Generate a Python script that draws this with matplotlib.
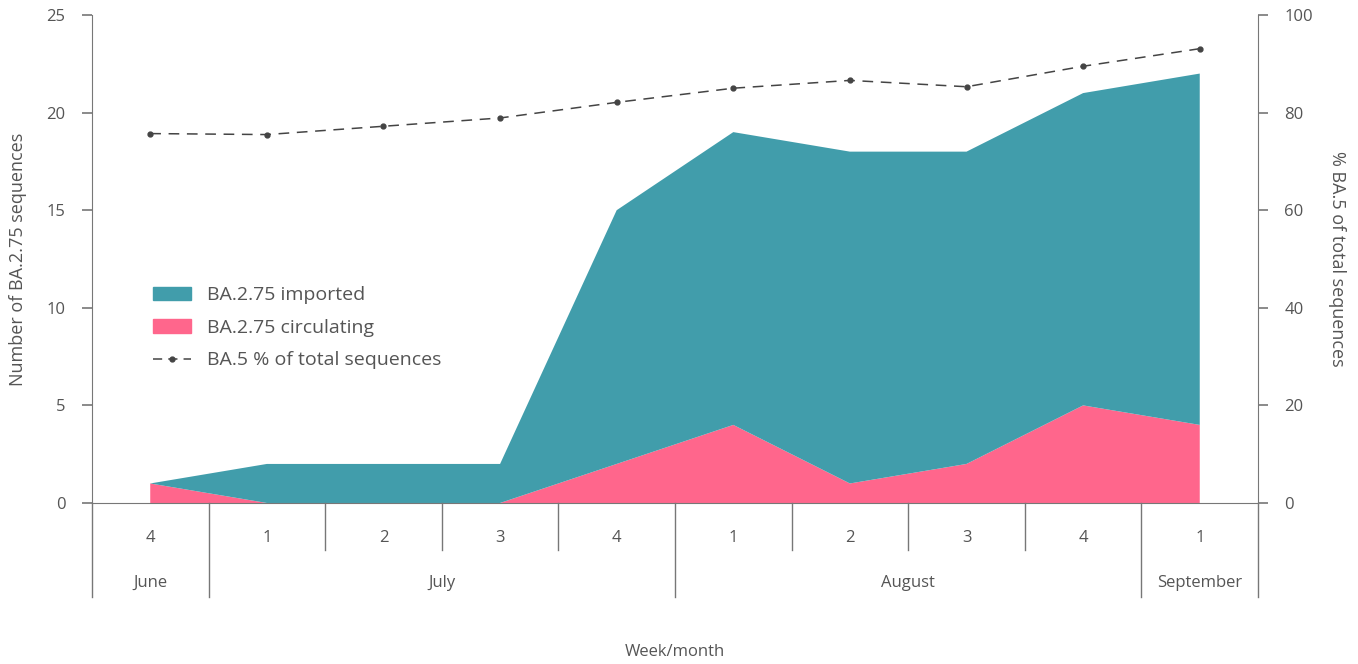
import matplotlib.pyplot as plt
import numpy as np
from matplotlib.patches import Patch
from matplotlib.lines import Line2D

# Weekly data, week 4 June -> week 1 September
weeks = ["4", "1", "2", "3", "4", "1", "2", "3", "4", "1"]
months = ["June", "July", "August", "September"]
month_spans = [(0, 0), (1, 4), (5, 8), (9, 9)]  # first/last week index per month
circulating = [1, 0, 0, 0, 2, 4, 1, 2, 5, 4]
imported = [0, 2, 2, 2, 13, 15, 17, 16, 16, 18]
ba5_pct = [75.7, 75.5, 77.2, 78.9, 82.1, 85.0, 86.6, 85.3, 89.5, 93.1]

teal = "#419dab"
pink = "#ff668c"
txt = "#555555"
axc = "#777777"

plt.rcParams["font.family"] = ["Open Sans", "DejaVu Sans"]

x = np.arange(len(weeks))
fig = plt.figure(figsize=(13.58, 6.64), dpi=100)
ax = fig.add_axes([0.0677, 0.2425, 0.8587, 0.7349])

ax.stackplot(x, circulating, imported, colors=[pink, teal], linewidth=0)
ax.set_xlim(-0.5, 9.5)
ax.set_ylim(0, 25)
ax.set_yticks([0, 5, 10, 15, 20, 25])
ax.set_xticks([])
ax.set_ylabel("Number of BA.2.75 sequences", fontsize=13, color=txt, labelpad=14)

ax2 = ax.twinx()
ax2.plot(x, ba5_pct, color="#444444", linestyle=(0, (7, 5)), linewidth=1.1,
         marker="o", markersize=3.5)
ax2.set_ylim(0, 100)
ax2.set_yticks([0, 20, 40, 60, 80, 100])
ax2.set_ylabel("% BA.5 of total sequences", fontsize=13, color=txt,
               rotation=-90, labelpad=24)

for a in (ax, ax2):
    a.spines["top"].set_visible(False)
    for s in a.spines.values():
        s.set_color(axc)
    a.tick_params(axis="y", colors=axc, labelcolor=txt, labelsize=12,
                  length=7, width=1.2, pad=12)
ax.spines["right"].set_visible(False)
ax2.spines["left"].set_visible(False)
ax2.spines["bottom"].set_visible(False)

# Week / month axis below the chart
tr = ax.get_xaxis_transform()
month_bounds = sorted({b for s, e in month_spans for b in (s - 0.5, e + 0.5)})
for b in np.arange(0.5, 9.0, 1.0):
    if b not in month_bounds:
        ax.plot([b, b], [0, -0.0963], transform=tr, color=axc, lw=1, clip_on=False)
for b in month_bounds:
    ax.plot([b, b], [0, -0.1926], transform=tr, color=axc, lw=1, clip_on=False)
for i, w in enumerate(weeks):
    ax.text(i, -0.072, w, transform=tr, ha="center", va="center",
            fontsize=12, color=txt)
for name, (s, e) in zip(months, month_spans):
    ax.text((s + e) / 2, -0.164, name, transform=tr, ha="center", va="center",
            fontsize=12, color=txt)
ax.text(4.5, -0.305, "Week/month", transform=tr, ha="center", va="center",
        fontsize=12, color=txt)

# Legend
handles = [Patch(color=teal, label="BA.2.75 imported"),
           Patch(color=pink, label="BA.2.75 circulating"),
           Line2D([], [], color="#444444", linestyle=(0, (6, 4)), lw=1.1,
                  marker="o", markersize=3.5, label="BA.5 % of total sequences")]
leg = ax.legend(handles=handles, loc="upper left", bbox_to_anchor=(0.037, 0.48),
                frameon=False, fontsize=14, handlelength=2.0, labelspacing=0.75)
for t in leg.get_texts():
    t.set_color(txt)

plt.savefig("out.png", dpi=100)
